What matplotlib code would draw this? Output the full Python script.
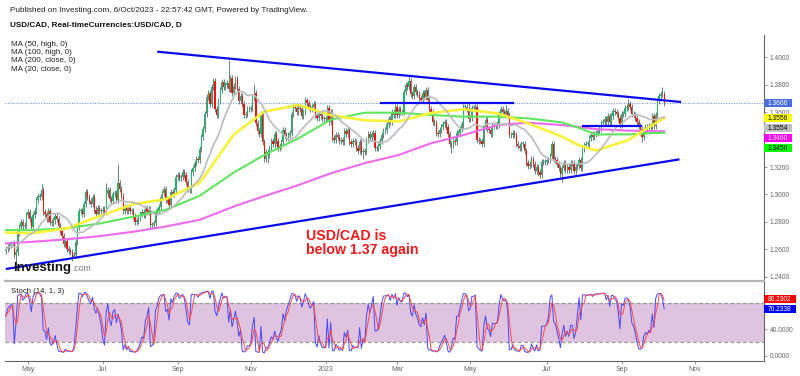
import numpy as np
import pandas as pd
import matplotlib
matplotlib.use("Agg")
import matplotlib.pyplot as plt
from matplotlib.patches import Rectangle

plt.rcParams['font.family'] = ['Liberation Sans', 'DejaVu Sans']

# USD/CAD daily closes, 13 Apr 2022 .. 6 Oct 2023 (one row per month)
close = [
    1.2600, 1.2620, 1.2630, 1.2640, 1.2640, 1.2560, 1.2580, 1.2720, 1.2760, 1.2800, 1.2770, 1.2780, 1.2850,
    1.2870, 1.2820, 1.2760, 1.2850, 1.2880, 1.2960, 1.2990, 1.2980, 1.3030, 1.2870, 1.2860, 1.2820, 1.2880, 1.2800, 1.2790, 1.2810, 1.2840, 1.2820, 1.2770, 1.2730, 1.2700, 1.2640,
    1.2660, 1.2600, 1.2590, 1.2580, 1.2540, 1.2560, 1.2650, 1.2760, 1.2880, 1.2880, 1.2860, 1.2930, 1.3020, 1.2980, 1.2950, 1.2930, 1.2980, 1.2890, 1.2860, 1.2900, 1.2880, 1.2880,
    1.2890, 1.2870, 1.3000, 1.3030, 1.2970, 1.2950, 1.3000, 1.3010, 1.2960, 1.3080, 1.3040, 1.2990, 1.2880, 1.2910, 1.2880, 1.2900, 1.2880, 1.2880, 1.2840, 1.2800, 1.2810,
    1.2830, 1.2860, 1.2870, 1.2850, 1.2900, 1.2870, 1.2890, 1.2780, 1.2780, 1.2790, 1.2870, 1.2880, 1.2910, 1.2980, 1.3010, 1.3040, 1.2960, 1.2970, 1.2920, 1.3020, 1.3000, 1.3030, 1.3130,
    1.3140, 1.3120, 1.3130, 1.3160, 1.3140, 1.3090, 1.3040, 1.3030, 1.3160, 1.3190, 1.3230, 1.3260, 1.3250, 1.3330, 1.3420, 1.3480, 1.3590, 1.3710, 1.3740, 1.3660, 1.3780, 1.3830,
    1.3620, 1.3580, 1.3680, 1.3760, 1.3820, 1.3780, 1.3800, 1.3810, 1.3770, 1.3850, 1.3740, 1.3790, 1.3840, 1.3770, 1.3680, 1.3720, 1.3660, 1.3580, 1.3590, 1.3620, 1.3620,
    1.3630, 1.3700, 1.3740, 1.3520, 1.3460, 1.3440, 1.3590, 1.3380, 1.3260, 1.3310, 1.3290, 1.3340, 1.3390, 1.3370, 1.3440, 1.3390, 1.3340, 1.3350, 1.3380, 1.3470, 1.3430, 1.3410,
    1.3430, 1.3450, 1.3590, 1.3640, 1.3630, 1.3600, 1.3630, 1.3620, 1.3570, 1.3600, 1.3690, 1.3670, 1.3640, 1.3620, 1.3640, 1.3660, 1.3580, 1.3560, 1.3590, 1.3570, 1.3550, 1.3550,
    1.3550, 1.3630, 1.3530, 1.3600, 1.3410, 1.3400, 1.3430, 1.3420, 1.3390, 1.3400, 1.3380, 1.3460, 1.3440, 1.3470, 1.3380, 1.3370, 1.3390, 1.3380, 1.3340, 1.3320, 1.3380, 1.3310,
    1.3320, 1.3310, 1.3400, 1.3440, 1.3410, 1.3440, 1.3450, 1.3340, 1.3340, 1.3350, 1.3390, 1.3430, 1.3460, 1.3470, 1.3510, 1.3550, 1.3530, 1.3600, 1.3580, 1.3640,
    1.3580, 1.3620, 1.3600, 1.3600, 1.3750, 1.3800, 1.3780, 1.3830, 1.3730, 1.3720, 1.3780, 1.3750, 1.3730, 1.3700, 1.3690, 1.3740, 1.3710, 1.3760, 1.3690, 1.3620, 1.3600, 1.3530, 1.3520,
    1.3450, 1.3440, 1.3470, 1.3490, 1.3510, 1.3530, 1.3490, 1.3440, 1.3370, 1.3360, 1.3390, 1.3380, 1.3450, 1.3450, 1.3480, 1.3510, 1.3640, 1.3640, 1.3620, 1.3550,
    1.3560, 1.3630, 1.3630, 1.3640, 1.3400, 1.3390, 1.3390, 1.3370, 1.3490, 1.3540, 1.3480, 1.3470, 1.3440, 1.3500, 1.3500, 1.3500, 1.3510, 1.3590, 1.3620, 1.3600, 1.3590, 1.3610, 1.3580,
    1.3430, 1.3430, 1.3450, 1.3430, 1.3370, 1.3350, 1.3340, 1.3370, 1.3370, 1.3320, 1.3230, 1.3210, 1.3220, 1.3260, 1.3220, 1.3170, 1.3200, 1.3160, 1.3140, 1.3240, 1.3240, 1.3240,
    1.3250, 1.3250, 1.3280, 1.3370, 1.3260, 1.3250, 1.3220, 1.3190, 1.3150, 1.3190, 1.3230, 1.3180, 1.3200, 1.3180, 1.3230, 1.3230, 1.3170, 1.3200, 1.3210, 1.3250, 1.3190,
    1.3330, 1.3360, 1.3370, 1.3370, 1.3410, 1.3430, 1.3420, 1.3440, 1.3450, 1.3460, 1.3480, 1.3520, 1.3530, 1.3550, 1.3530, 1.3570, 1.3530, 1.3570, 1.3610, 1.3600, 1.3590, 1.3560, 1.3510,
    1.3590, 1.3590, 1.3630, 1.3640, 1.3660, 1.3640, 1.3590, 1.3580, 1.3560, 1.3530, 1.3500, 1.3480, 1.3420, 1.3470, 1.3490, 1.3480, 1.3500, 1.3490, 1.3570, 1.3500, 1.3580,
    1.3680, 1.3720, 1.3730, 1.3730, 1.3666,
]
first_open = 1.2590

# notable wick extremes
wick_high = {'2022-05-12': 1.3077, '2022-07-05': 1.3084, '2022-07-14': 1.3224, '2022-10-13': 1.3977,
             '2022-11-03': 1.3808, '2022-12-16': 1.3705, '2023-03-10': 1.3862, '2023-04-28': 1.3668,
             '2023-05-30': 1.3655, '2023-09-07': 1.3694, '2023-10-05': 1.3785}
wick_low = {'2022-04-21': 1.2500, '2022-06-08': 1.2544, '2022-08-11': 1.2755, '2022-11-15': 1.3226,
            '2023-02-01': 1.3262, '2023-04-14': 1.3300, '2023-07-14': 1.3093, '2023-09-19': 1.3380}

# moving averages (trading-day number, value)
ma_day = [0, 16, 36, 56, 75, 94, 114, 134, 152, 172, 191, 211, 231, 250, 269, 289, 307, 327, 337, 347, 366, 380, 387]
ma50_high = [1.2721, 1.2718, 1.2753, 1.2846, 1.2929, 1.2965, 1.3085, 1.3437, 1.3604, 1.3652, 1.3578, 1.3541,
             1.3532, 1.3594, 1.3621, 1.3591, 1.3519, 1.3421, 1.3358, 1.3320, 1.3397, 1.3506, 1.3556]
ma100_high = [1.2740, 1.2740, 1.2753, 1.2790, 1.2838, 1.2888, 1.2990, 1.3160, 1.3288, 1.3409, 1.3545, 1.3596,
              1.3596, 1.3579, 1.3567, 1.3567, 1.3555, 1.3525, 1.3485, 1.3437, 1.3438, 1.3447, 1.3450]
ma200_close = [1.2643, 1.2655, 1.2673, 1.2697, 1.2728, 1.2766, 1.2815, 1.2912, 1.2988, 1.3068, 1.3154, 1.3228,
               1.3288, 1.3373, 1.3433, 1.3506, 1.3523, 1.3506, 1.3492, 1.3476, 1.3465, 1.3461, 1.3460]

# drawn lines: (start date, end date, start price, end price)
trend_lines = [('2022-08-16', '2023-10-20', 1.4041, 1.3674),
               ('2022-04-13', '2023-10-19', 1.2456, 1.3256),
               ('2023-02-15', '2023-06-06', 1.3665, 1.3665),
               ('2023-08-01', '2023-09-19', 1.3499, 1.3499)]

# value labels on the right axis
last_labels = [('1.3666', '#4a6fdc', 'white'), ('1.3556', '#ffff00', 'black'), ('1.3554', '#c0c0c0', 'black'),
               ('1.3460', '#ff00ff', 'white'), ('1.3450', '#00ff00', 'black')]
stoch_labels = [('70.2338', '#0000ff'), ('80.2302', '#ff0000')]

price_ticks = [1.24, 1.26, 1.28, 1.30, 1.32, 1.34, 1.36, 1.38, 1.40]
hidden_ticks = [1.34]   # covered by the value boxes in the original

month_ticks = [(2022, 5, 'May'), (2022, 7, 'Jul'), (2022, 9, 'Sep'), (2022, 11, 'Nov'), (2023, 1, '2023'),
               (2023, 3, 'Mar'), (2023, 5, 'May'), (2023, 7, 'Jul'), (2023, 9, 'Sep'), (2023, 11, 'Nov')]

# ---------------------------------------------------------------
c = np.array(close)
n = len(c)
dates = pd.bdate_range('2022-04-13', periods=n)
ext = pd.bdate_range('2022-04-13', '2023-11-30')
x = np.arange(n)
o = np.r_[first_open, c[:-1]]
wick = 0.0022
hi = np.maximum(o, c) + wick
lo = np.minimum(o, c) - wick
for d, v in wick_high.items():
    hi[dates.get_loc(pd.Timestamp(d))] = v
for d, v in wick_low.items():
    lo[dates.get_loc(pd.Timestamp(d))] = v

s = pd.Series(c)
ma20 = s.rolling(20, min_periods=1).mean()
hh = pd.Series(hi).rolling(14, min_periods=1).max()
ll = pd.Series(lo).rolling(14, min_periods=1).min()
k = (s - ll) / (hh - ll) * 100
d3 = k.rolling(3, min_periods=1).mean()

fig = plt.figure(figsize=(8, 3.76), dpi=100)
W, H = 800, 376
ax = fig.add_axes([5 / W, 1 - 281 / H, 759 / W, 246 / H])
ax2 = fig.add_axes([5 / W, 1 - 361 / H, 759 / W, 79 / H], sharex=ax)

ax.set_xlim(-0.47, 445.7)
ax.set_ylim(1.23687, 1.41626)

up = c >= o
body = np.maximum(np.abs(c - o), 0.0004)
ax.vlines(x, lo, hi, color='#46615a', lw=0.55, zorder=2)
ax.bar(x[up], body[up], bottom=o[up], width=0.75, color='#22b56c', lw=0, zorder=3)
ax.bar(x[~up], body[~up], bottom=c[~up], width=0.75, color='#ff0d0d', lw=0, zorder=3)

ax.plot(ma_day, ma200_close, color='#f06af0', lw=1.5, zorder=4)
ax.plot(ma_day, ma100_high, color='#5ee65e', lw=1.5, zorder=4)
ax.plot(ma_day, ma50_high, color='#f8f23a', lw=1.9, zorder=4)
ax.plot(x, ma20, color='#bcbcbc', lw=1.2, zorder=4)

ax.axhline(c[-1], color='#7d95e2', ls=(0, (1, 1.3)), lw=0.8, zorder=1)

for d0, d1, p0, p1 in trend_lines:
    i0 = ext.get_loc(pd.Timestamp(d0))
    i1 = ext.get_loc(pd.Timestamp(d1))
    ax.plot([i0, i1], [p0, p1], color='#0a0aee', lw=1.6, zorder=5, solid_capstyle='butt')

ax.text(0.3966, 0.213, 'USD/CAD is\nbelow 1.37 again', transform=ax.transAxes, color='#ee1c1c',
        fontsize=10.2, fontweight='bold', va='top', ha='left', linespacing=1.05, zorder=6)

for a in (ax, ax2):
    a.yaxis.tick_right()
    a.spines['left'].set_visible(False)
    a.spines['top'].set_visible(False)
    a.spines['right'].set_color('#666666')
    a.spines['right'].set_linewidth(0.8)
    a.tick_params(axis='y', direction='out', length=2.5, width=0.6, color='#888888',
                  labelsize=4.8, labelcolor='#666666', pad=1.5)
    a.set_facecolor('none')
ax.spines['bottom'].set_color('#b4b4b4')
ax.spines['bottom'].set_linewidth(1.6)
ax.tick_params(axis='x', bottom=False, labelbottom=False)
ax.set_yticks(price_ticks)
ax.set_yticklabels(['' if t in hidden_ticks else f'{t:.4f}' for t in price_ticks])

# stochastic panel
ax2.set_ylim(-8.33, 111.4)
ax2.axhspan(20, 80, color='#dfc3df', zorder=0, lw=0)
for lvl in (20, 80):
    ax2.axhline(lvl, color='#9a9a9a', ls=(0, (3, 2)), lw=0.9, zorder=1)
ax2.plot(x, k, color='#4848ff', lw=0.7, zorder=3)
ax2.plot(x, d3, color='#ff4a4a', lw=0.7, zorder=4)
ax2.set_yticks([0, 40])
ax2.yaxis.set_major_formatter(plt.FormatStrFormatter('%.4f'))
ax2.spines['bottom'].set_color('#666666')
ax2.spines['bottom'].set_linewidth(0.8)
tpos = [int(np.argmax((ext.year == yy) & (ext.month == mm))) for yy, mm, _ in month_ticks]
ax2.set_xticks(tpos)
ax2.set_xticklabels([t for _, _, t in month_ticks])
ax2.tick_params(axis='x', direction='out', length=2, width=0.6, color='#888888',
                labelsize=5, labelcolor='#666666', pad=1.5)
ax2.text(6 / 759, (355.5 - 291.5) / 0.66, 'Stoch (14, 1, 3)', transform=ax2.get_yaxis_transform(),
         fontsize=5.6, color='#222222', va='center', ha='left')


# right side value boxes
def value_box(a, y, txt, fc, tc, w_px, h_data):
    tr = a.get_yaxis_transform()
    a.add_patch(Rectangle((1.0, y - h_data / 2), w_px / 759, h_data, transform=tr,
                          facecolor=fc, edgecolor='none', clip_on=False, zorder=7))
    a.text(1.0 + w_px / 2 / 759, y, txt, transform=tr, fontsize=4.8, color=tc,
           ha='center', va='center', clip_on=False, zorder=8)


gap = 10 / 1371.25
prev = None
for txt, fc, tc in last_labels:
    v = float(txt)
    if prev is not None and prev - v < gap:
        v = prev - gap
    value_box(ax, v, txt, fc, tc, 28, 7.5 / 1371.25)
    prev = v

sgap = 10 / 0.66
prev = None
for txt, fc in stoch_labels:
    v = float(txt)
    if prev is not None and v - prev < sgap:
        v = prev + sgap
    value_box(ax2, v, txt, fc, 'white', 32, 7.5 / 0.66)
    prev = v

# header texts
fig.text(10 / W, 1 - 11 / H, 'Published on Investing.com, 6/Oct/2023 - 22:57:42 GMT, Powered by TradingView.',
         fontsize=5.9, color='#222222', va='center')
fig.text(10 / W, 1 - 25 / H, 'USD/CAD, Real-timeCurrencies:USD/CAD, D',
         fontsize=5.9, fontweight='bold', color='#111111', va='center')
for i, t in enumerate(['MA (50, high, 0)', 'MA (100, high, 0)', 'MA (200, close, 0)', 'MA (20, close, 0)']):
    fig.text(11 / W, 1 - (44.3 + 8.35 * i) / H, t, fontsize=5.8, color='#222222', va='center')

logo = fig.text(13 / W, 1 - 271 / H, 'Investing', fontsize=9.5, fontweight='bold', color='#111111',
                va='baseline', zorder=10)
fig.canvas.draw()
lx = logo.get_window_extent().x1
fig.text((lx + 1.5) / W, 1 - 271 / H, '.com', fontsize=6.2, color='#777777', va='baseline', zorder=10)

fig.savefig('out.png', dpi=100)
